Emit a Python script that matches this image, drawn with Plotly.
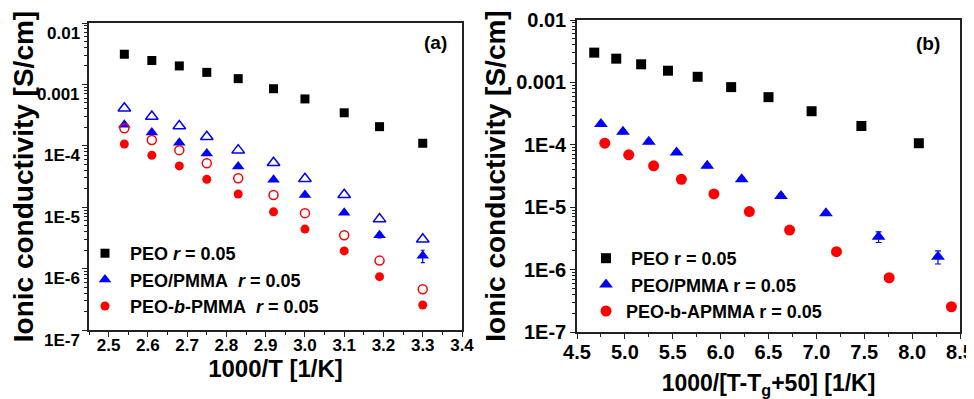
import math
import plotly.graph_objects as go

FONT = "Liberation Sans, Arial, sans-serif"

# ---------------- Panel (a) data ----------------
x_a = [2.54, 2.61, 2.68, 2.75, 2.83, 2.92, 3.00, 3.10, 3.19, 3.30]
peo_a = [3.1e-3, 2.45e-3, 2.0e-3, 1.57e-3, 1.24e-3, 8.5e-4, 5.8e-4, 3.45e-4, 2.05e-4, 1.1e-4]
blend_open_a = [4.1e-4, 3.0e-4, 2.1e-4, 1.4e-4, 8.5e-5, 5.3e-5, 2.9e-5, 1.6e-5, 6.4e-6, 3.0e-6]
blend_fill_a = [2.2e-4, 1.65e-4, 1.12e-4, 7.5e-5, 4.6e-5, 2.8e-5, 1.58e-5, 8.1e-6, 3.5e-6, 1.62e-6]
blend_fill_a_err = [1.0e-5, 8.0e-6, 6.0e-6, 4.0e-6, 2.5e-6, 1.5e-6, 9.0e-7, 5.0e-7, 3.5e-7, 3.7e-7]
block_open_a = [1.93e-4, 1.24e-4, 8.5e-5, 5.2e-5, 2.96e-5, 1.58e-5, 8.0e-6, 3.5e-6, 1.35e-6, 4.6e-7]
block_fill_a = [1.07e-4, 7.0e-5, 4.7e-5, 2.84e-5, 1.64e-5, 8.4e-6, 4.4e-6, 1.94e-6, 7.4e-7, 2.55e-7]

# ---------------- Panel (b) data ----------------
x_peo_b = [4.68, 4.91, 5.17, 5.45, 5.76, 6.11, 6.50, 6.95, 7.47, 8.07]
peo_b = [3.0e-3, 2.4e-3, 1.95e-3, 1.54e-3, 1.23e-3, 8.4e-4, 5.8e-4, 3.45e-4, 2.0e-4, 1.06e-4]
peo_b_err = [3.6e-4, 2.9e-4, 2.3e-4, 1.8e-4, 1.5e-4, 1.0e-4, 7.0e-5, 4.1e-5, 2.4e-5, 1.3e-5]
x_blend_b = [4.75, 4.98, 5.25, 5.54, 5.86, 6.22, 6.63, 7.10, 7.65, 8.27]
blend_b = [2.15e-4, 1.62e-4, 1.12e-4, 7.5e-5, 4.6e-5, 2.8e-5, 1.51e-5, 8.0e-6, 3.37e-6, 1.61e-6]
blend_b_err = [1.5e-5, 1.1e-5, 8.0e-6, 5.0e-6, 3.0e-6, 2.0e-6, 1.2e-6, 6.0e-7, 6.5e-7, 3.8e-7]
x_block_b = [4.79, 5.04, 5.30, 5.59, 5.93, 6.30, 6.72, 7.21, 7.76, 8.41]
block_b = [1.06e-4, 6.9e-5, 4.6e-5, 2.8e-5, 1.63e-5, 8.5e-6, 4.3e-6, 1.94e-6, 7.4e-7, 2.54e-7]

# ---------------- tick labels ----------------
y_tickvals = [1e-2, 1e-3, 1e-4, 1e-5, 1e-6, 1e-7]
y_ticktext = ["0.01", "0.001", "1E-4", "1E-5", "1E-6", "1E-7"]

# ---------------- legend labels ----------------
leg_a = ["&nbsp;PEO <i>r</i> = 0.05",
         "&nbsp;PEO/PMMA&nbsp;&nbsp;<i>r</i> = 0.05",
         "&nbsp;PEO-<i>b</i>-PMMA&nbsp;&nbsp;<i>r</i> = 0.05"]
leg_b = ["&nbsp;PEO r = 0.05",
         "&nbsp;PEO/PMMA r = 0.05",
         "PEO-b-APMMA r = 0.05"]

BLACK, BLUE, RED = "#000000", "#0000ff", "#ff0000"

fig = go.Figure()

# Panel (a)
fig.add_trace(go.Scatter(x=x_a, y=peo_a, mode="markers", name=leg_a[0],
                         marker=dict(symbol="square", size=9, color=BLACK),
                         xaxis="x", yaxis="y", legend="legend"))
fig.add_trace(go.Scatter(x=x_a, y=blend_open_a, mode="markers", showlegend=False,
                         marker=dict(symbol="triangle-up-open", size=11, color=BLUE,
                                     line=dict(width=1.5, color=BLUE)),
                         xaxis="x", yaxis="y"))
fig.add_trace(go.Scatter(x=x_a, y=blend_fill_a, mode="markers", name=leg_a[1],
                         error_y=dict(type="data", array=blend_fill_a_err, color=BLUE,
                                      thickness=1.2, width=2),
                         marker=dict(symbol="triangle-up", size=11, color=BLUE),
                         xaxis="x", yaxis="y", legend="legend"))
fig.add_trace(go.Scatter(x=x_a, y=block_open_a, mode="markers", showlegend=False,
                         marker=dict(symbol="circle-open", size=9, color=RED,
                                     line=dict(width=1.5, color=RED)),
                         xaxis="x", yaxis="y"))
fig.add_trace(go.Scatter(x=x_a, y=block_fill_a, mode="markers", name=leg_a[2],
                         marker=dict(symbol="circle", size=9, color=RED),
                         xaxis="x", yaxis="y", legend="legend"))

# Panel (b)
fig.add_trace(go.Scatter(x=x_peo_b, y=peo_b, mode="markers", name=leg_b[0],
                         error_y=dict(type="data", array=peo_b_err, color=BLACK,
                                      thickness=1.2, width=2),
                         marker=dict(symbol="square", size=10, color=BLACK),
                         xaxis="x2", yaxis="y2", legend="legend2"))
fig.add_trace(go.Scatter(x=x_blend_b, y=blend_b, mode="markers", name=leg_b[1],
                         error_y=dict(type="data", array=blend_b_err, color=BLUE,
                                      thickness=1.2, width=3),
                         marker=dict(symbol="triangle-up", size=12, color=BLUE),
                         xaxis="x2", yaxis="y2", legend="legend2"))
fig.add_trace(go.Scatter(x=x_block_b, y=block_b, mode="markers", name=leg_b[2],
                         marker=dict(symbol="circle", size=11, color=RED),
                         xaxis="x2", yaxis="y2", legend="legend2"))

# The page body has an 8 px margin, so the figure is drawn 8 px in from the window edge.
OFF = 8
W, H = 974 - OFF, 399 - OFF


def fx(px):  # window pixel -> paper fraction (x)
    return (px - OFF) / W


def fy(py):  # window pixel -> paper fraction (y)
    return 1 - (py - OFF) / H


axis_common = dict(showgrid=False, zeroline=False, showline=True, linecolor="#222",
                   linewidth=1.5, mirror=True, ticks="outside", tickcolor="#222",
                   tickwidth=1.3, ticklen=5, automargin=False)

# left-panel y tick labels sit a little below their ticks in the original
left_ylabels = [
    dict(text=t, xref="x domain", yref="y", x=0, y=math.log10(v), xanchor="right",
         yanchor="middle", xshift=-7, yshift=-10, showarrow=False,
         font=dict(family=FONT, size=17, color="black", weight="bold"))
    for v, t in zip(y_tickvals, y_ticktext)
]

fig.update_layout(
    xaxis=dict(**axis_common, domain=[fx(89), fx(462)], anchor="y",
               range=[2.45, 3.4], tick0=2.5, dtick=0.1, tickformat=".1f",
               ticklabelstandoff=-6,
               minor=dict(ticks="outside", ticklen=3, dtick=0.05, tickcolor="#222", tickwidth=1.2),
               tickfont=dict(family=FONT, size=17, color="black", weight="bold"),
               title=dict(text="1000/T [1/K]", standoff=0,
                          font=dict(family=FONT, size=24, color="black", weight="bold"))),
    yaxis=dict(**axis_common, domain=[fy(330), fy(23)], anchor="x",
               type="log", range=[-7, -2], tickvals=y_tickvals, ticktext=y_ticktext,
               showticklabels=False,
               minor=dict(ticks="outside", ticklen=3, dtick="D1", tickcolor="#222", tickwidth=1.0),
               tickfont=dict(family=FONT, size=17, color="black", weight="bold"),
               title=dict(text="Ionic conductivity [S/cm]", standoff=51,
                          font=dict(family=FONT, size=28, color="black", weight="bold"))),
    xaxis2=dict(**axis_common, domain=[fx(577), fx(960)], anchor="y2",
                range=[4.5, 8.5], tick0=4.5, dtick=0.5, tickformat=".1f",
                ticklabelstandoff=-4,
                minor=dict(ticks="outside", ticklen=3, dtick=0.25, tickcolor="#222", tickwidth=1.2),
                tickfont=dict(family=FONT, size=20, color="black", weight="bold"),
                title=dict(text="1000/[T-T<sub>g</sub>+50] [1/K]", standoff=15,
                           font=dict(family=FONT, size=23, color="black", weight="bold"))),
    yaxis2=dict(**axis_common, domain=[fy(332), fy(20)], anchor="x2",
                type="log", range=[-7, -2], tickvals=y_tickvals, ticktext=y_ticktext,
                minor=dict(ticks="outside", ticklen=3, dtick="D1", tickcolor="#222", tickwidth=1.0),
                tickfont=dict(family=FONT, size=20, color="black", weight="bold"),
                title=dict(text="Ionic conductivity [S/cm]", standoff=2,
                           font=dict(family=FONT, size=28, color="black", weight="bold"))),
    legend=dict(x=fx(85), y=fy(235), xanchor="left", yanchor="top",
                bgcolor="rgba(0,0,0,0)", borderwidth=0, tracegroupgap=0,
                font=dict(family=FONT, size=18, color="black", weight="bold")),
    legend2=dict(x=fx(586), y=fy(240), xanchor="left", yanchor="top",
                 bgcolor="rgba(0,0,0,0)", borderwidth=0, tracegroupgap=0,
                 font=dict(family=FONT, size=18, color="black", weight="bold")),
    annotations=left_ylabels + [
        dict(text="(a)", xref="x domain", yref="y domain", x=0.928, y=0.935,
             showarrow=False, xanchor="center", yanchor="middle",
             font=dict(family=FONT, size=19, color="black", weight="bold")),
        dict(text="(b)", xref="x2 domain", yref="y2 domain", x=0.916, y=0.926,
             showarrow=False, xanchor="center", yanchor="middle",
             font=dict(family=FONT, size=19, color="black", weight="bold")),
    ],
    width=W, height=H,
    margin=dict(l=0, r=0, t=0, b=0, autoexpand=False),
    paper_bgcolor="white", plot_bgcolor="white",
)

fig.write_html("out.html")
